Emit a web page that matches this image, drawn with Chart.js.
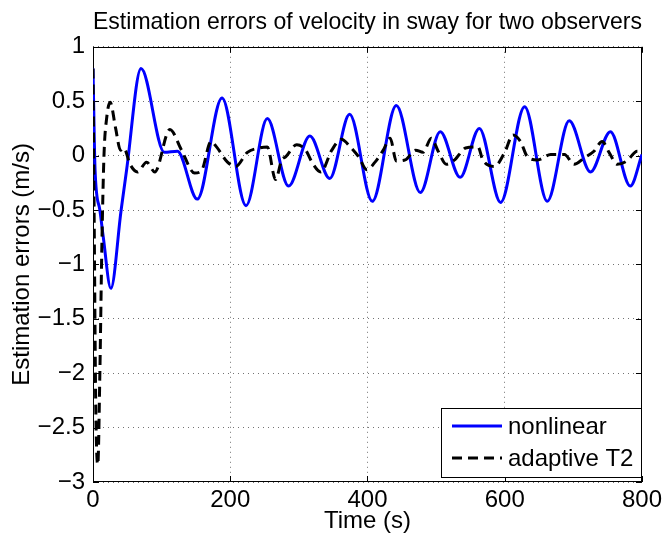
<!DOCTYPE html>
<html>
<head>
<meta charset="utf-8">
<title>Estimation errors of velocity in sway</title>
<script src="https://cdn.jsdelivr.net/npm/chart.js@4/dist/chart.umd.min.js"></script>
<style>
    body { margin: 0; background: #fff; }
    #wrap { width: 666px; height: 544px; }
</style>
</head>
<body>
<div id="wrap"><canvas id="errChart" width="666" height="544"></canvas></div>
<script>
// Values (time in s, error in m/s)
const nlTime = [0, 3, 10, 15, 26, 41, 49, 70, 104, 123, 152, 188, 223, 254, 285, 316, 345, 374, 407, 442,
    477, 506, 535, 563, 594, 629, 662, 694, 725, 754, 783, 800];
const nlErr = [0.80, -0.13, -0.50, -0.75, -1.22, -0.50, -0.13, 0.80, 0.03, 0.04, -0.40, 0.53, -0.46, 0.34, -0.28, 0.18, -0.21, 0.38, -0.42, 0.46,
    -0.34, 0.22, -0.20, 0.25, -0.43, 0.45, -0.42, 0.32, -0.15, 0.22, -0.28, 0.01];

const atTime = [0, 2, 4, 7, 10, 13, 16, 20, 25, 33, 40, 45, 54, 65, 78, 90, 112, 129, 148, 158,
    172, 180, 196, 208, 225, 242, 254, 266, 275, 281, 297, 310, 319, 332, 348, 362, 375, 387, 399, 411,
    423, 433, 442, 455, 470, 481, 493, 503, 515, 527, 543, 561, 568, 585, 600, 612, 623, 633, 648, 667,
    687, 701, 716, 730, 742, 752, 764, 778, 793, 800];
const atErr = [0.80, -0.80, -2.30, -2.84, -2.00, -0.80, 0.00, 0.35, 0.49, 0.25, 0.05, 0.07, -0.08, -0.15, -0.06, -0.15, 0.24, 0.05, -0.16, -0.14,
    0.13, 0.08, -0.06, -0.10, 0.03, 0.07, 0.08, -0.22, -0.04, -0.01, 0.10, 0.05, -0.06, -0.15, 0.05, 0.15, 0.08, -0.01, -0.13, -0.06,
    0.05, 0.16, -0.05, -0.04, 0.05, 0.03, 0.16, 0.04, -0.08, -0.04, 0.07, 0.08, -0.04, -0.10, 0.03, 0.19, 0.13, -0.01, -0.04, 0.01,
    0.01, -0.08, -0.02, 0.04, 0.13, 0.03, -0.08, -0.05, 0.04, 0.04];

const seriesLabels = ['nonlinear', 'adaptive T2'];
const xTicks = [0, 200, 400, 600, 800];
const yTicks = [-3, -2.5, -2, -1.5, -1, -0.5, 0, 0.5, 1];

const FONT = '"Liberation Sans", Arial, Helvetica, sans-serif';

function toPoints(xs, ys) {
    return xs.map((x, i) => ({ x: x, y: ys[i] }));
}

function minusSign(v) {
    return String(v).replace('-', '\u2212');
}

// Matlab style box round the axes with small inward ticks
const axesBox = {
    id: 'axesBox',
    beforeDatasetsDraw(chart) {
        const { ctx, chartArea: a, scales } = chart;
        const tick = 6;
        ctx.save();
        ctx.strokeStyle = '#000';
        ctx.lineWidth = 1;
        ctx.beginPath();
        xTicks.forEach(v => {
            const px = Math.round(scales.x.getPixelForValue(v)) + 0.5;
            ctx.moveTo(px, a.top); ctx.lineTo(px, a.top + tick);
            ctx.moveTo(px, a.bottom); ctx.lineTo(px, a.bottom - tick);
        });
        yTicks.forEach(v => {
            const py = Math.round(scales.y.getPixelForValue(v)) + 0.5;
            ctx.moveTo(a.left, py); ctx.lineTo(a.left + tick, py);
            ctx.moveTo(a.right, py); ctx.lineTo(a.right - tick, py);
        });
        ctx.stroke();
        ctx.strokeRect(Math.round(a.left) + 0.5, Math.round(a.top) + 0.5,
            Math.round(a.width) - 1, Math.round(a.height) - 1);
        ctx.restore();
    }
};

// Legend box in the lower right corner of the axes
const boxLegend = {
    id: 'boxLegend',
    afterDraw(chart) {
        const { ctx, chartArea: a } = chart;
        const w = 200, h = 69;
        const x = Math.round(a.right) - w - 1;
        const y = Math.round(a.bottom) - h - 5;
        ctx.save();
        ctx.fillStyle = '#fff';
        ctx.fillRect(x, y, w, h);
        ctx.strokeStyle = '#000';
        ctx.lineWidth = 1;
        ctx.strokeRect(x + 0.5, y + 0.5, w, h);
        ctx.font = '24px ' + FONT;
        ctx.textBaseline = 'middle';
        ctx.textAlign = 'left';
        chart.data.datasets.forEach((ds, i) => {
            const rowY = y + 18 + i * 32;
            ctx.beginPath();
            ctx.setLineDash(ds.borderDash || []);
            ctx.strokeStyle = ds.borderColor;
            ctx.lineWidth = ds.borderWidth;
            ctx.moveTo(x + 11, rowY);
            ctx.lineTo(x + 61, rowY);
            ctx.stroke();
            ctx.setLineDash([]);
            ctx.fillStyle = '#000';
            ctx.fillText(ds.label, x + 67, rowY + 1);
        });
        ctx.restore();
    }
};

Chart.defaults.color = '#000';
Chart.defaults.font.family = FONT;

const ctx = document.getElementById('errChart').getContext('2d');
const errChart = new Chart(ctx, {
    type: 'line',
    data: {
        datasets: [
            {
                label: seriesLabels[0],
                data: toPoints(nlTime, nlErr),
                borderColor: '#0000ff',
                borderWidth: 3,
                pointRadius: 0,
                cubicInterpolationMode: 'monotone',
                fill: false,
                order: 1
            },
            {
                label: seriesLabels[1],
                data: toPoints(atTime, atErr),
                borderColor: '#000000',
                borderWidth: 3,
                borderDash: [10, 6],
                pointRadius: 0,
                cubicInterpolationMode: 'monotone',
                fill: false,
                order: 0
            }
        ]
    },
    options: {
        responsive: false,
        animation: false,
        layout: { padding: { left: 0, right: 21, top: 0, bottom: 0 } },
        plugins: {
            legend: { display: false },
            tooltip: { enabled: false },
            title: {
                display: true,
                fullSize: false,
                text: 'Estimation errors of velocity in sway for two observers',
                font: { size: 24, weight: 'normal' },
                padding: { top: 8, bottom: 10 }
            }
        },
        scales: {
            x: {
                type: 'linear',
                min: 0,
                max: 800,
                afterBuildTicks: s => { s.ticks = xTicks.map(v => ({ value: v })); },
                afterFit: s => { s.height = 62; },
                ticks: { font: { size: 24 }, padding: 4, maxRotation: 0 },
                grid: { color: 'rgba(0,0,0,0.55)', drawTicks: false },
                border: { display: false, dash: [1, 4] },
                title: { display: true, text: 'Time (s)', font: { size: 24 }, padding: { top: 0, bottom: 8 } }
            },
            y: {
                type: 'linear',
                min: -3,
                max: 1,
                afterBuildTicks: s => { s.ticks = yTicks.map(v => ({ value: v })); },
                afterFit: s => { s.width = 93; },
                ticks: { font: { size: 24 }, padding: 8, callback: v => minusSign(v) },
                grid: { color: 'rgba(0,0,0,0.55)', drawTicks: false },
                border: { display: false, dash: [1, 4] },
                title: { display: true, text: 'Estimation errors (m/s)', font: { size: 24 }, padding: { top: 8, bottom: 0 } }
            }
        }
    },
    plugins: [axesBox, boxLegend]
});
</script>
</body>
</html>
